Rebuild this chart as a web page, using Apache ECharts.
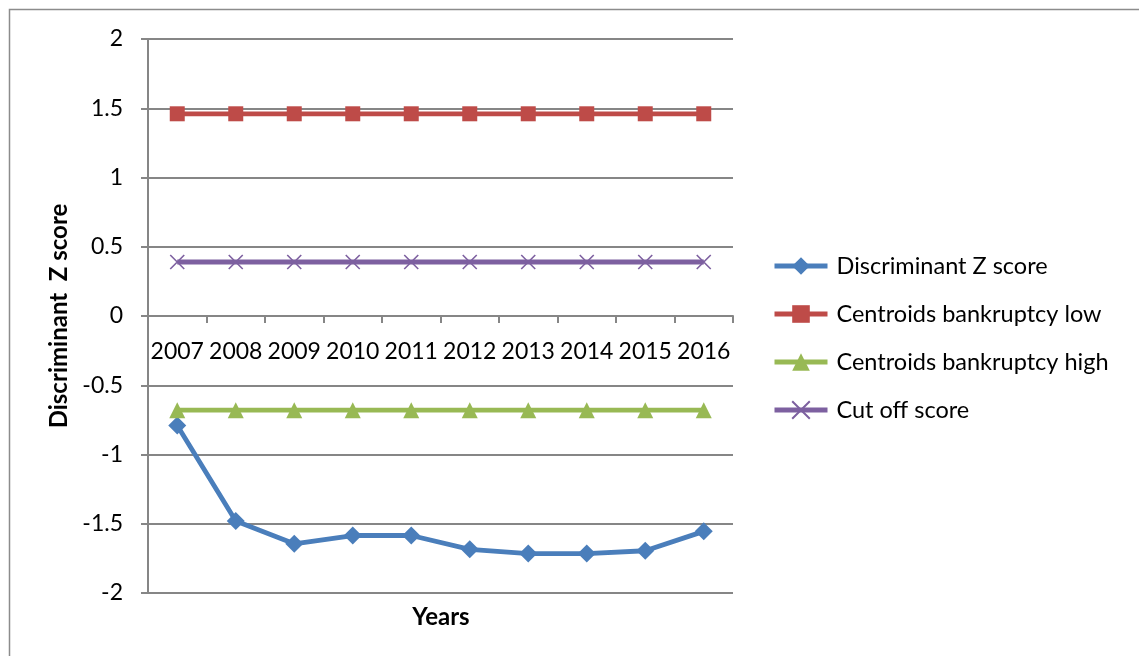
<!DOCTYPE html>
<html>
<head>
<meta charset="utf-8">
<script src="https://cdn.jsdelivr.net/npm/echarts@6/dist/echarts.min.js"></script>
<style>
  html, body { margin: 0; padding: 0; background: #fff; }
  #chart { width: 1139px; height: 656px; }
</style>
</head>
<body>
<div id="chart"></div>
<script>
// Years on the category axis
const years = ['2007', '2008', '2009', '2010', '2011', '2012', '2013', '2014', '2015', '2016'];

// Series values
const zScore = [-0.79, -1.48, -1.645, -1.585, -1.585, -1.685, -1.715, -1.715, -1.695, -1.555];
const centroidLow = [1.46, 1.46, 1.46, 1.46, 1.46, 1.46, 1.46, 1.46, 1.46, 1.46];
const centroidHigh = [-0.68, -0.68, -0.68, -0.68, -0.68, -0.68, -0.68, -0.68, -0.68, -0.68];
const cutOff = [0.39, 0.39, 0.39, 0.39, 0.39, 0.39, 0.39, 0.39, 0.39, 0.39];

// Value axis range
const yMin = -2, yMax = 2, yStep = 0.5;

const FONT = 'Lato, "Open Sans", sans-serif';
const GRAY = '#868686';
const crossPath = 'path://M0,0L10,10M10,0L0,10';

// Plot area box in pixels
const GRID = { left: 148, right: 406, top: 39, bottom: 63 };
const plotHeight = 656 - GRID.top - GRID.bottom;
// Distance from the bottom of the plot to the zero line
const zeroOffset = plotHeight * (0 - yMin) / (yMax - yMin);

const chart = echarts.init(document.getElementById('chart'), null, { renderer: 'canvas' });

function lineSeries(name, data, color, symbol, size, extraItemStyle) {
  return {
    name: name,
    type: 'line',
    data: data,
    symbol: symbol,
    symbolSize: size,
    showAllSymbol: true,
    lineStyle: { color: color, width: 4.8 },
    itemStyle: Object.assign({ color: color }, extraItemStyle || {}),
    emphasis: { disabled: true },
    z: 3
  };
}

chart.setOption({
  animation: false,
  backgroundColor: '#fff',
  textStyle: { fontFamily: FONT },
  graphic: [{
    type: 'rect',
    shape: { x: 9.5, y: 9.5, width: 1140, height: 660 },
    style: { fill: 'none', stroke: '#8c8c8c', lineWidth: 1.5 },
    silent: true
  }, {
    type: 'text',
    x: 441,
    y: 617,
    style: {
      text: 'Years',
      fontFamily: FONT,
      fontSize: 24,
      fontWeight: 'bold',
      fill: '#000',
      align: 'center',
      verticalAlign: 'middle'
    },
    silent: true
  }],
  grid: Object.assign({ containLabel: false }, GRID),
  legend: {
    orient: 'vertical',
    left: 767,
    top: 249,
    itemWidth: 53,
    itemHeight: 22,
    itemGap: 24,
    selectedMode: false,
    lineStyle: { width: 5 },
    textStyle: { fontFamily: FONT, fontSize: 23.5, color: '#000', lineHeight: 22, padding: [0, 0, 0, 4] },
    data: ['Discriminant Z score', 'Centroids bankruptcy low', 'Centroids bankruptcy high', 'Cut off score']
  },
  xAxis: {
    type: 'category',
    data: years,
    boundaryGap: true,
    position: 'bottom',
    offset: -zeroOffset,
    axisLine: { onZero: false, lineStyle: { color: GRAY, width: 2 } },
    axisTick: { show: true, interval: 0, length: 7, lineStyle: { color: GRAY, width: 2 } },
    axisLabel: { interval: 0, fontFamily: FONT, fontSize: 23, color: '#000', margin: 24, hideOverlap: false },
    splitLine: { show: false }
  },
  yAxis: {
    type: 'value',
    min: yMin,
    max: yMax,
    interval: yStep,
    name: 'Discriminant  Z score',
    nameLocation: 'middle',
    nameGap: 75,
    nameRotate: 90,
    nameTextStyle: { fontFamily: FONT, fontSize: 24, fontWeight: 'bold', color: '#000' },
    axisLine: { show: true, lineStyle: { color: GRAY, width: 2 } },
    axisTick: { show: true, length: 7, lineStyle: { color: GRAY, width: 2 } },
    axisLabel: { fontFamily: FONT, fontSize: 23, color: '#000', margin: 25 },
    splitLine: { show: true, lineStyle: { color: GRAY, width: 2 } }
  },
  series: [
    lineSeries('Discriminant Z score', zScore, '#4A7EBB', 'diamond', 18),
    lineSeries('Centroids bankruptcy low', centroidLow, '#BE4B48', 'rect', 15),
    lineSeries('Centroids bankruptcy high', centroidHigh, '#98B954', 'triangle', 16),
    lineSeries('Cut off score', cutOff, '#7D60A0', crossPath, 14, { borderColor: '#7D60A0', borderWidth: 1.6 })
  ]
});
</script>
</body>
</html>
